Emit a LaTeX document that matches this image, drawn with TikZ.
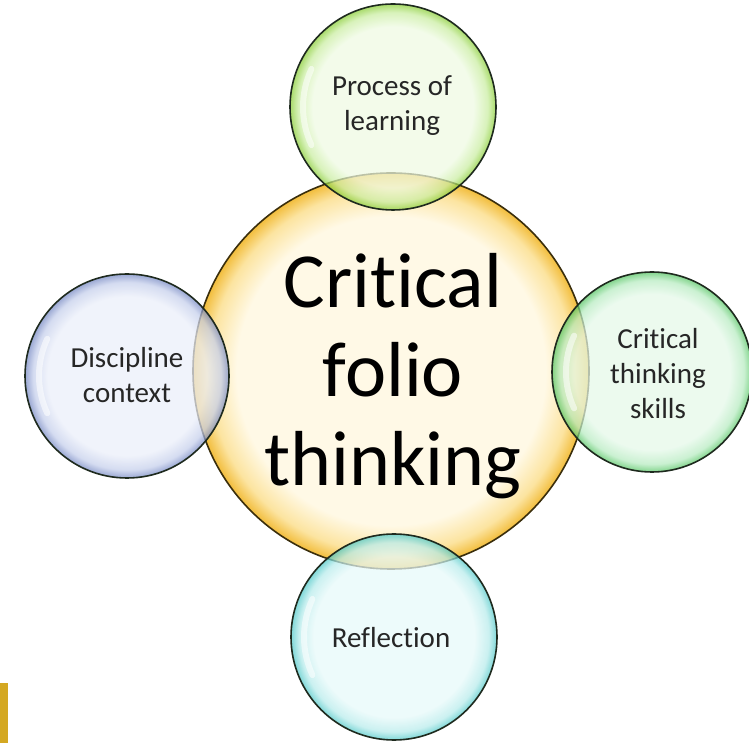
\documentclass[tikz,border=0pt]{standalone}
\usepackage{fontspec}
\setmainfont{Carlito}[RawFeature={-liga;-clig;-dlig;-calt}]
\usetikzlibrary{positioning}

% colour sets for the bubbles: inner, middle ring, rim, outline
\definecolor{goldIn}{HTML}{FFF9E6}
\definecolor{goldMid}{HTML}{FCE4A0}
\definecolor{goldRim}{HTML}{F2BD3C}
\definecolor{goldLine}{HTML}{3A2E0C}
\definecolor{limeIn}{HTML}{EEFAE2}
\definecolor{limeMid}{HTML}{C9EDA0}
\definecolor{limeRim}{HTML}{86CC30}
\definecolor{blueIn}{HTML}{EAEEF9}
\definecolor{blueMid}{HTML}{C4CEEB}
\definecolor{blueRim}{HTML}{7386C2}
\definecolor{mintIn}{HTML}{E4F8E8}
\definecolor{mintMid}{HTML}{B6EBC0}
\definecolor{mintRim}{HTML}{52C460}
\definecolor{cyanIn}{HTML}{E6F9F9}
\definecolor{cyanMid}{HTML}{B6EBEB}
\definecolor{cyanRim}{HTML}{4EC8C8}
\definecolor{edge}{HTML}{1E2A1E}
\definecolor{barGold}{HTML}{D4A822}

% radial bubble shading; the circle's rim lies at 25bp of the shading
\newcommand\bubbleshading[4]{%
  \pgfdeclareradialshading{#1}{\pgfpoint{0bp}{0bp}}{%
    color(0bp)=(#2); color(19.5bp)=(#2); color(23bp)=(#3); color(25bp)=(#4); color(50bp)=(#4)}}
\bubbleshading{goldshade}{goldIn}{goldMid}{goldRim}
\bubbleshading{limeshade}{limeIn}{limeMid}{limeRim}
\bubbleshading{blueshade}{blueIn}{blueMid}{blueRim}
\bubbleshading{mintshade}{mintIn}{mintMid}{mintRim}
\bubbleshading{cyanshade}{cyanIn}{cyanMid}{cyanRim}

\tikzset{
  hub/.style={circle, inner sep=0pt, minimum size=396pt, shading=goldshade,
              draw=goldLine, line width=1.6pt},
  petal/.style={circle, inner sep=0pt, minimum size=#1, draw=edge,
                line width=1.6pt, fill opacity=0.72, draw opacity=1},
  bigtext/.style={align=center, font=\fontsize{78}{89}\selectfont, text=black},
  smalltext/.style={align=center, font=\fontsize{29}{35}\selectfont, text=black!85},
  gloss/.style={white, line width=6pt, opacity=0.55, line cap=round},
}

\begin{document}
\begin{tikzpicture}[x=1pt, y=1pt]
  \useasboundingbox (0,0) rectangle (749,744);

  % central bubble
  \node[hub] (hub) at (391,373) {};

  % four surrounding bubbles, drawn over the hub
  \node[petal=206pt, shading=limeshade] (top) at (393,637) {};
  \node[petal=204pt, shading=blueshade] (left) at (127,368) {};
  \node[petal=200pt, shading=mintshade] (right) at (652,372) {};
  \node[petal=206pt, shading=cyanshade] (bottom) at (394,107) {};

  % soft glossy highlights
  \draw[gloss] ([shift={(155:90pt)}]top.center) arc[start angle=155, end angle=205, radius=90pt];
  \draw[gloss] ([shift={(155:88pt)}]left.center) arc[start angle=155, end angle=205, radius=88pt];
  \draw[gloss] ([shift={(155:86pt)}]right.center) arc[start angle=155, end angle=205, radius=86pt];
  \draw[gloss] ([shift={(155:90pt)}]bottom.center) arc[start angle=155, end angle=205, radius=90pt];

  % labels
  \node[bigtext] (hubtext) at (393,368) {Cri\kern0pt tical\\folio\\thinking};
  \node[smalltext] (toptext) at (392,638) {Process of\\learning};
  \node[smalltext] (lefttext) at (127,369) {Discipline\\context};
  \node[smalltext] (righttext) at (658,370) {Cri\kern0pt tical\\thinking\\skills};
  \node[smalltext] (bottomtext) at (391,106) {Reflection};

  % gold bar at the lower left edge
  \fill[barGold] (0,1) rectangle (8,61);
\end{tikzpicture}
\end{document}
